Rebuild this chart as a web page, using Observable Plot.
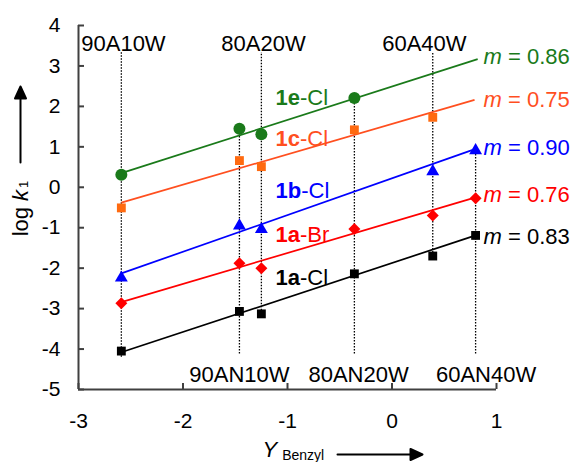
<!DOCTYPE html>
<html>
<head>
<meta charset="utf-8">
<script src="https://cdn.jsdelivr.net/npm/d3@7"></script>
<script src="https://cdn.jsdelivr.net/npm/@observablehq/plot@0.6"></script>
<style>
  html, body { margin: 0; padding: 0; background: #fff; }
  svg { display: block; }
</style>
</head>
<body>
<div id="chart"></div>
<script>
// ---- data ----
const solvents = ["90A10W", "90AN10W", "80A20W", "80AN20W", "60A40W", "60AN40W"];
const yBenzyl  = [-2.59, -1.46, -1.25, -0.36, 0.39, 0.80];

const series = ["1e-Cl", "1c-Cl", "1b-Cl", "1a-Br", "1a-Cl"];
const logk_1eCl = [0.31, 1.45, 1.31, 2.21, null, null];
const logk_1cCl = [-0.51, 0.66, 0.51, 1.42, 1.73, null];
const logk_1bCl = [-2.24, -0.95, -1.04, null, 0.39, 0.91];
const logk_1aBr = [-2.87, -1.88, -2.00, -1.03, -0.70, -0.27];
const logk_1aCl = [-4.05, -3.07, -3.13, -2.14, -1.70, -1.19];
const seriesValues = [logk_1eCl, logk_1cCl, logk_1bCl, logk_1aBr, logk_1aCl];

const slopes = ["0.86", "0.75", "0.90", "0.76", "0.83"];

// fitted lines (end points)
const fitXStart = [-2.59, -2.59, -2.59, -2.59, -2.59];
const fitXEnd   = [0.82, 0.79, 0.80, 0.80, 0.80];
const fitYStart = [0.35, -0.38, -2.13, -2.84, -4.08];
const fitYEnd   = [3.17, 2.16, 0.95, -0.25, -1.19];

// dotted guide lines for each solvent
const guideBottom = [-4.20, -4.12, -3.13, -4.12, -1.70, -4.12];
const guideTop    = [3.33, 1.45, 3.33, 2.21, 3.33, 0.91];

const xTicks = [-3, -2, -1, 0, 1];
const yTicks = [-5, -4, -3, -2, -1, 0, 1, 2, 3, 4];

// annotation placement (data units)
const topLabels = ["90A10W", "80A20W", "60A40W"];
const topLabelX = [-2.57, -1.23, 0.31];
const bottomLabels = ["90AN10W", "80AN20W", "60AN40W"];
const bottomLabelX = [-1.46, -0.32, 0.90];
const seriesLabelY = [2.22, 1.19, -0.08, -1.18, -2.24];
const slopeLabelY  = [3.21, 2.15, 0.98, -0.20, -1.23];

// ---- styles ----
const lineColors   = ["#1a7a1a", "#ff4f1f", "#0000ff", "#ff0000", "#000000"];
const markerColors = ["#1a7a1a", "#ff6a10", "#0000ff", "#ff0000", "#000000"];
const symbols = ["circle", "square", "triangle", "diamond2", "square"];
const radii = [6, 5, 4.8, 5.4, 5];

const W = 573, H = 462, mL = 78, mR = 77, mT = 25, mB = 73;
const innerW = W - mL - mR, innerH = H - mT - mB;
const axisColor = "#404040";
const font = "'Liberation Sans', Arial, Helvetica, sans-serif";

// ---- tables ----
const points = [];
series.forEach((s, i) => {
  seriesValues[i].forEach((v, j) => {
    if (v != null) points.push({s, x: yBenzyl[j], y: v});
  });
});
const fits = series.map((s, i) => ({s, x1: fitXStart[i], x2: fitXEnd[i], y1: fitYStart[i], y2: fitYEnd[i], c: lineColors[i]}));
const guides = solvents.map((s, i) => ({s, x: yBenzyl[i], y1: guideBottom[i], y2: guideTop[i]}));
const slopeLabels = series.map((s, i) => ({t: "m = " + slopes[i], y: slopeLabelY[i], c: lineColors[i]}));
const nameLabels = series.map((s, i) => ({t: s, y: seriesLabelY[i], c: lineColors[i]}));
const tops = topLabels.map((t, i) => ({t, x: topLabelX[i]}));
const bottoms = bottomLabels.map((t, i) => ({t, x: bottomLabelX[i]}));
const yTitle = "log k1";
const xTitle = "YBenzyl";

const arrowShape = {
  draw(context, l) {
    const hl = 12, hw = 5.5;
    context.moveTo(0, 0);
    context.lineTo(0, -l + hl);
    context.moveTo(0, -l);
    context.lineTo(-hw, -l + hl);
    context.lineTo(hw, -l + hl);
    context.closePath();
  }
};

const svg = Plot.plot({
  width: W, height: H,
  marginLeft: mL, marginRight: mR, marginTop: mT, marginBottom: mB,
  style: {fontFamily: font, background: "#fff", color: "#000", overflow: "visible"},
  x: {domain: [-3, 1]},
  y: {domain: [-5, 4]},
  color: {type: "identity"},
  marks: [
    // axes
    Plot.axisX(xTicks, {tickSize: 0, tickPadding: 24, fontSize: 21, label: null, tickFormat: d => String(d)}),
    Plot.axisY(yTicks, {tickSize: 0, tickPadding: 18, fontSize: 21, label: null, tickFormat: d => String(d)}),
    Plot.tickY(yTicks, {y: d => d, insetRight: innerW - 6, stroke: axisColor, strokeWidth: 2}),
    Plot.tickX(xTicks, {x: d => d, insetTop: innerH - 6, stroke: axisColor, strokeWidth: 2}),
    Plot.ruleX([-3], {y1: -5, y2: 4, stroke: axisColor, strokeWidth: 2}),
    Plot.ruleY([-5], {x1: -3, x2: 1, stroke: axisColor, strokeWidth: 2}),
    // guide lines
    Plot.ruleX(guides, {x: "x", y1: "y1", y2: "y2", stroke: "#000", strokeWidth: 1.3, strokeDasharray: "1.5,1.5"}),
    // fits
    Plot.link(fits, {x1: "x1", y1: "y1", x2: "x2", y2: "y2", stroke: "c", strokeWidth: 1.7}),
    // markers
    ...series.map((s, i) => Plot.dot(points.filter(p => p.s === s), {
      x: "x", y: "y", symbol: symbols[i], r: radii[i], fill: markerColors[i], stroke: "none"
    })),
    // labels
    Plot.text(slopeLabels, {x: 0.876, y: "y", text: "t", fill: "c", textAnchor: "start", fontSize: 22}),
    Plot.text(nameLabels, {x: -1.115, y: "y", text: "t", fill: "c", textAnchor: "start", fontSize: 22}),
    Plot.text(tops, {x: "x", y: 3.54, text: "t", fill: "#000", fontSize: 22}),
    Plot.text(bottoms, {x: "x", y: -4.65, text: "t", fill: "#000", fontSize: 22}),
    // axis titles
    Plot.text([yTitle], {frameAnchor: "left", dx: -58, dy: 1, rotate: -90, text: d => d, textAnchor: "middle", fontSize: 22, fill: "#000"}),
    Plot.text([xTitle], {frameAnchor: "bottom", dx: -25, dy: 67, text: d => d, textAnchor: "start", fontSize: 22, fill: "#000"}),
    Plot.vector([0], {frameAnchor: "left", dx: -58, dy: -45, length: 76, rotate: 0, anchor: "start", shape: arrowShape, stroke: "#000", fill: "#000", strokeWidth: 2}),
    Plot.vector([0], {frameAnchor: "bottom", dx: 50, dy: 65, length: 85, rotate: 90, anchor: "start", shape: arrowShape, stroke: "#000", fill: "#000", strokeWidth: 2})
  ]
});

// ---- rich text (real text, styled with tspans) ----
const NS = "http://www.w3.org/2000/svg";
function span(parent, txt, attrs) {
  const t = document.createElementNS(NS, "tspan");
  t.textContent = txt;
  for (const k in attrs) t.setAttribute(k, attrs[k]);
  parent.appendChild(t);
  return t;
}
svg.querySelectorAll("text").forEach(el => {
  const s = el.textContent;
  if (series.includes(s)) {
    const k = s.indexOf("-");
    el.textContent = "";
    span(el, s.slice(0, k), {"font-weight": "bold"});
    span(el, s.slice(k), {});
  } else if (s.startsWith("m = ")) {
    el.textContent = "";
    span(el, "m", {"font-style": "italic"});
    span(el, s.slice(1), {});
  } else if (s === yTitle) {
    el.textContent = "";
    span(el, "log ", {});
    span(el, "k", {"font-style": "italic"});
    span(el, "1", {"font-size": "13", "dx": "2"});
  } else if (s === xTitle) {
    el.textContent = "";
    span(el, "Y", {"font-style": "italic"});
    span(el, "Benzyl", {"font-size": "14", "dx": "5", "dy": "3"});
  }
});

document.getElementById("chart").appendChild(svg);
</script>
</body>
</html>
